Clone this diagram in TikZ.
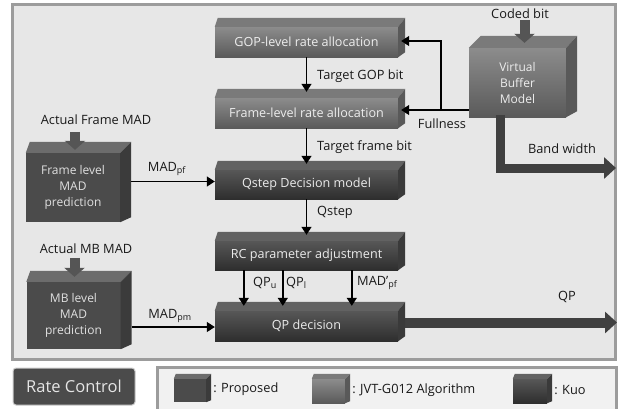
\documentclass[tikz,border=0pt]{standalone}
\usepackage{fontspec}
\setmainfont{Open Sans}
\usetikzlibrary{arrows.meta,calc}

\definecolor{panelfill}{HTML}{E7E7E7}
\definecolor{panelline}{HTML}{9C9C9C}
\definecolor{jvtA}{HTML}{8C8C8C}
\definecolor{jvtB}{HTML}{5A5A5A}
\definecolor{jvtTop}{HTML}{7A7A7A}
\definecolor{jvtSide}{HTML}{595959}
\definecolor{kuoA}{HTML}{575757}
\definecolor{kuoB}{HTML}{2E2E2E}
\definecolor{kuoTop}{HTML}{626262}
\definecolor{kuoSide}{HTML}{3A3A3A}
\definecolor{propFace}{HTML}{4B4B4B}
\definecolor{propTop}{HTML}{6C6C6C}
\definecolor{propSide}{HTML}{3B3B3B}
\definecolor{blockgray}{HTML}{555555}
\definecolor{flowgray}{HTML}{404040}

% top and right faces of a bevelled box drawn on a named front face
% #1 name, #2 back-left x shift, #3 back-right x shift, #4 top rise, #5 rise at the bottom of the side, #6 top colour, #7 side colour
\newcommand\cubefaces[7]{%
  \fill[#6] (#1.north west) -- (#1.north east) -- ($(#1.north east)+(#3,-#4)$) -- ($(#1.north west)+(#2,-#4)$) -- cycle;
  \fill[#7] (#1.north east) -- ($(#1.north east)+(#3,-#4)$) -- ($(#1.south east)+(#3,-#5)$) -- (#1.south east) -- cycle;
}

\tikzset{
  face/.style={draw=none, inner sep=0pt, align=center, font=\fontsize{12}{16}\selectfont},
  jvt/.style={face, top color=jvtA, bottom color=jvtB, text=white!93!black},
  kuo/.style={face, top color=kuoA, bottom color=kuoB, text=white!92!black},
  prop/.style={face, fill=propFace, text=white!88!black},
  wide/.style={minimum width=183pt, minimum height=30pt, font=\fontsize{12.6}{16}\selectfont},
  tall/.style={minimum width=94pt, minimum height=69pt},
  arr/.style={line width=1.4pt, -{Triangle[length=8pt,width=10pt]}},
  blk/.style={draw=blockgray, line width=10pt, -{Triangle[length=9pt,width=20pt]}},
  flow/.style={draw=flowgray, line width=10pt, line join=miter, -{Triangle[length=12pt,width=21pt]}},
  lbl/.style={inner sep=1pt, font=\fontsize{12.8}{15}\selectfont, text=black!90},
  legtxt/.style={inner sep=1pt, anchor=west, font=\fontsize{12.8}{15}\selectfont, text=black!90},
}

\begin{document}
\begin{tikzpicture}[x=1pt,y=-1pt]
\clip (0,0) rectangle (622,408);
\fill[white] (0,0) rectangle (622,408);

% main panel
\draw[panelline, line width=3pt, fill=panelfill] (12,4) rectangle (615,359);

% processing chain
\node[jvt, wide] (gop) at (306.5,42) {GOP-level rate allocation};
\node[jvt, wide] (frl) at (306.5,113) {Frame-level rate allocation};
\node[kuo, wide, minimum height=29pt] (qstep) at (306.5,184.5) {Qstep Decision model};
\node[kuo, wide, minimum height=29pt] (rc) at (306.5,255.5) {RC parameter adjustment};
\node[kuo, wide] (qpd) at (306.5,326) {QP decision};
\node[jvt, minimum width=97pt, minimum height=69pt] (vbm) at (517.5,82.5) {Virtual\\Buffer\\Model};
\node[prop, tall] (fmad) at (73,187.5) {Frame level\\MAD\\prediction};
\node[prop, tall, minimum height=67pt] (mbmad) at (73.5,315.5) {MB level\\MAD\\prediction};

% outgoing flows (under the box faces)
\coordinate (bwtip) at (616,168);
\coordinate (qptip) at (617,322.5);
\draw[flow, line width=9pt] ($(vbm.south)+(-17,-2)$) |- (bwtip);
\draw[flow] ($(qpd.east)+(0,-3.5)$) -- (qptip);

\cubefaces{gop}{3}{7}{9}{5}{jvtTop}{jvtSide}
\cubefaces{frl}{3}{7}{9}{5}{jvtTop}{jvtSide}
\cubefaces{qstep}{3}{7}{9}{5}{kuoTop}{kuoSide}
\cubefaces{rc}{3}{7}{9}{5}{kuoTop}{kuoSide}
\cubefaces{qpd}{3}{7}{9}{5}{kuoTop}{kuoSide}
\cubefaces{vbm}{12}{11}{12}{6}{jvtTop}{jvtSide}
\cubefaces{fmad}{4}{11}{11}{5}{propTop}{propSide}
\cubefaces{mbmad}{4}{11}{11}{5}{propTop}{propSide}

% vertical chain
\draw[arr] (gop.south) -- ($(frl.north)+(0,-6)$);
\draw[arr] (frl.south) -- ($(qstep.north)+(0,-6)$);
\draw[arr] (qstep.south) -- ($(rc.north)+(0,-6)$);
\node[lbl, anchor=west] at (316,76) {Target GOP bit};
\node[lbl, anchor=west] at (316,147) {Target frame bit};
\node[lbl, anchor=west] at (316,212) {Qstep};

% RC parameters into the QP decision
\draw[arr] ($(rc.south west)+(29,0)$) -- ($(qpd.north west)+(29,-5)$);
\draw[arr] ($(rc.south west)+(68,0)$) -- ($(qpd.north west)+(68,-5)$);
\draw[arr] ($(rc.south west)+(137,0)$) -- ($(qpd.north west)+(137,-5)$);
\node[lbl, anchor=west] at (252,283) {QP\textsubscript{u}};
\node[lbl, anchor=west] at (285,283) {QP\textsubscript{l}};
\node[lbl, anchor=west] at (356,283) {MAD\textquoteright\textsubscript{pf}};

% buffer fullness feedback
\coordinate (gopin) at ($(gop.east)+(3,-1)$);
\coordinate (frlin) at ($(frl.east)+(3,-3)$);
\coordinate (fj) at ($(vbm.west |- frlin)+(-28,0)$);
\draw[line width=1.4pt] (vbm.west |- frlin) -- (fj);
\draw[arr] (fj) -- (frlin);
\draw[arr] (fj) |- (gopin);
\node[lbl] at (442,124) {Fullness};

% buffer input and bandwidth
\draw[blk] ($(vbm.north)+(7,-28)$) -- ($(vbm.north)+(7,-5)$);
\node[lbl] at (520,14) {Coded bit};
\node[lbl] at (562,149) {Band width};
\node[lbl] at (567,297) {QP};

% MAD predictions
\draw[blk] ($(fmad.north)+(2,-21)$) -- ($(fmad.north)+(2,-3)$);
\node[lbl] at (96,120) {Actual Frame MAD};
\coordinate (pfin) at ($(qstep.west)+(0,-3)$);
\draw[arr] ($(fmad.east |- pfin)+(11,0)$) -- (pfin);
\node[lbl] at (167,169) {MAD\textsubscript{pf}};

\draw[blk] ($(mbmad.north)+(1,-24)$) -- ($(mbmad.north)+(1,-5)$);
\node[lbl] at (86,249) {Actual MB MAD};
\coordinate (pmin) at ($(qpd.west)+(0,1)$);
\draw[arr] ($(mbmad.east |- pmin)+(11,0)$) -- (pmin);
\node[lbl] at (170,316) {MAD\textsubscript{pm}};

% title button
\node[rounded corners=3pt, fill=propFace, draw=black!20, line width=1pt, text=white!90!black,
      minimum width=122pt, minimum height=37pt, inner sep=0pt,
      font=\fontsize{16.5}{19}\selectfont] (title) at (74,386.5) {Rate Control};

% legend
\draw[panelline, line width=3pt, fill=panelfill!60!white] (157,367) rectangle (616,414);
\node[prop, minimum width=32pt, minimum height=23pt] (lgp) at (190,390.5) {};
\cubefaces{lgp}{2}{5}{5}{2}{propTop}{propSide}
\node[legtxt] at ($(lgp.east)+(6,-1)$) {: Proposed};
\node[jvt, minimum width=33pt, minimum height=24pt] (lgj) at (328.5,391) {};
\cubefaces{lgj}{2}{5}{5}{2}{jvtTop}{jvtSide}
\node[legtxt] at ($(lgj.east)+(6,-1)$) {: JVT-G012 Algorithm};
\node[kuo, minimum width=34pt, minimum height=24pt] (lgk) at (530,391) {};
\cubefaces{lgk}{2}{5}{5}{2}{kuoTop}{kuoSide}
\node[legtxt] at ($(lgk.east)+(6,-1)$) {: Kuo};
\end{tikzpicture}
\end{document}
